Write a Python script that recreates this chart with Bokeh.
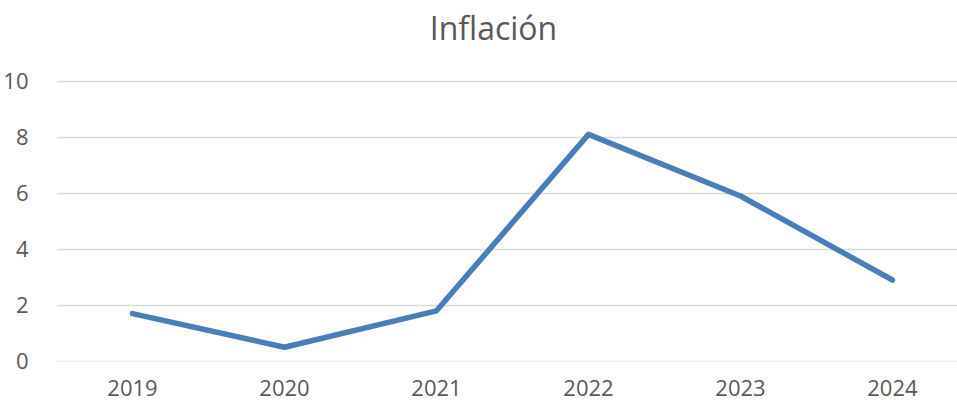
from bokeh.plotting import figure
from bokeh.models import Range1d, FixedTicker, Label
from bokeh.embed import file_html
from bokeh.resources import INLINE

years = ["2019", "2020", "2021", "2022", "2023", "2024"]
inflation = [1.7, 0.5, 1.8, 8.1, 5.9, 2.9]
y_ticks = [0, 2, 4, 6, 8, 10]
title_text = "Inflación"

xs = list(range(len(years)))

# the frame covers the whole top of the canvas so the title can sit inside it
p = figure(width=957, height=401, output_backend="svg", toolbar_location=None,
           x_range=Range1d(-0.5, 5.428), y_range=Range1d(-0.01, 12.88),
           min_border_left=56, min_border_right=0, min_border_top=0, min_border_bottom=40)
p.outline_line_color = None
p.background_fill_color = "white"
p.border_fill_color = "white"

p.line(xs, inflation, line_color="#4A7EBB", line_width=5.5, line_join="round", line_cap="round")

p.xgrid.grid_line_color = None
p.ygrid.grid_line_color = "#D9D9D9"
p.ygrid.grid_line_width = 1.5
p.yaxis.ticker = FixedTicker(ticks=y_ticks)
p.xaxis.ticker = FixedTicker(ticks=xs)
p.xaxis.major_label_overrides = {i: y for i, y in enumerate(years)}

for ax in (p.xaxis, p.yaxis):
    ax.axis_line_color = None
    ax.major_tick_line_color = None
    ax.minor_tick_line_color = None
    ax.major_label_text_color = "#595959"
    ax.major_label_text_font = "Open Sans"
    ax.major_label_text_font_size = "22px"
p.xaxis.major_label_standoff = 12
p.yaxis.major_label_standoff = 22

p.add_layout(Label(x=2.375, y=11.93, text=title_text, text_align="center", text_baseline="alphabetic",
                   text_font="Open Sans", text_font_size="32px", text_color="#595959"))

open("out.html", "w").write(file_html(p, INLINE))
